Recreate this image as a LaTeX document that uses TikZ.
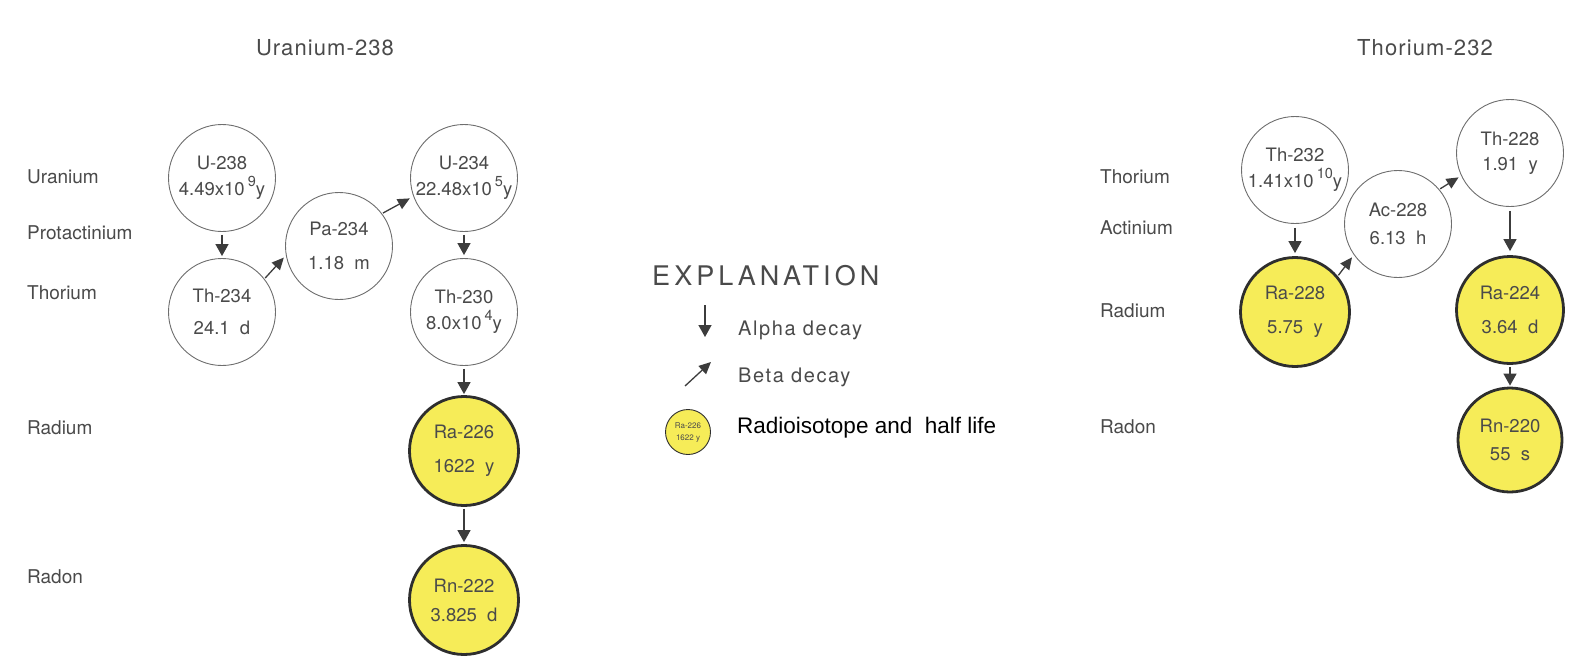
\documentclass[tikz,border=0pt]{standalone}
\usepackage{fontspec}
\setmainfont{TeX Gyre Heros}
\newfontfamily\arialfont{Liberation Sans}
\newfontfamily\trackfont[LetterSpace=15]{TeX Gyre Heros}
\newfontfamily\widefont[LetterSpace=8]{TeX Gyre Heros}
\newfontfamily\titlefont[LetterSpace=5]{TeX Gyre Heros}
\usetikzlibrary{arrows.meta}
\definecolor{txtgray}{HTML}{4A4A4A}
\definecolor{ringgray}{HTML}{6E6E6E}
\definecolor{radyellow}{HTML}{F6EC58}
\definecolor{ringdark}{HTML}{2E2E2E}
\definecolor{arrgray}{HTML}{3C3C3C}
\newcommand{\pw}[1]{\raisebox{0.95ex}{\fontsize{14.5}{14.5}\selectfont #1}}

\begin{document}
\begin{tikzpicture}[x=1pt,y=-1pt,
    iso/.style={circle,draw=ringgray,line width=0.9pt,fill=white,minimum size=107pt,inner sep=0pt,align=center,text=txtgray,font=\fontsize{18.5}{22}\selectfont},
    radio/.style={iso,fill=radyellow,draw=ringdark,line width=2.8pt,minimum size=109pt},
    rowlab/.style={anchor=west,inner sep=0pt,text=txtgray,font=\fontsize{19}{23}\selectfont},
    heading/.style={inner sep=0pt,text=txtgray,font=\fontsize{22}{26}\selectfont\titlefont},
    alphadecay/.style={draw=arrgray,line width=1.4pt,-{Triangle[length=12pt,width=13pt]}},
    betadecay/.style={draw=arrgray,line width=1.3pt,-{Triangle[length=12pt,width=11pt]}}]
  \useasboundingbox[fill=white] (0,0) rectangle (1571,664);

  \node[heading] (titleU) at (325,48) {Uranium-238};
  \node[heading] (titleTh) at (1425,48) {Thorium-232};

  \foreach \lab/\y in {Uranium/177,Protactinium/233,Thorium/293,Radium/428,Radon/577}
    \node[rowlab] (rowU-\lab) at (27,\y) {\lab};
  \foreach \lab/\y in {Thorium/177,Actinium/228,Radium/311,Radon/427}
    \node[rowlab] (rowTh-\lab) at (1100,\y) {\lab};

  \node[iso] (u238) at (222,178) {U-238\\[4pt]4.49x10\,\pw{9}y};
  \node[iso] (th234) at (222,312) {Th-234\\[10pt]24.1\ \ d};
  \node[iso] (pa234) at (339,246) {Pa-234\\[12pt]1.18\ \ m};
  \node[iso] (u234) at (464,178) {U-234\\[4pt]22.48x10\,\pw{5}y};
  \node[iso] (th230) at (464,312) {Th-230\\[4pt]8.0x10\,\pw{4}y};
  \node[radio] (ra226) at (464,451) {Ra-226\\[12pt]1622\ \ y};
  \node[radio] (rn222) at (464,600) {Rn-222\\[7pt]3.825\ \ d};

  \draw[alphadecay,shorten <=3pt,shorten >=2pt] (u238) -- (th234);
  \draw[betadecay,shorten <=1pt,shorten >=3pt] (th234.38) -- (pa234.190);
  \draw[betadecay,shorten <=1pt,shorten >=4pt] (pa234.37) -- (u234.200);
  \draw[alphadecay,shorten <=3pt,shorten >=3pt] (u234) -- (th230);
  \draw[alphadecay,shorten <=3pt,shorten >=1pt] (th230) -- (ra226);
  \draw[alphadecay,shorten <=2pt,shorten >=2pt] (ra226) -- (rn222);

  \node[heading,anchor=west,font=\fontsize{27}{30}\selectfont\trackfont] (expl) at (652,276) {EXPLANATION};
  \coordinate (alphaA) at (705,305);
  \coordinate (alphaB) at (705,337);
  \coordinate (betaA) at (685,386);
  \coordinate (betaB) at (711,362);
  \draw[alphadecay] (alphaA) -- (alphaB);
  \draw[betadecay] (betaA) -- (betaB);
  \node[rowlab,font=\fontsize{20}{24}\selectfont\widefont] (alphatxt) at (738,330) {Alpha decay};
  \node[rowlab,font=\fontsize{20}{24}\selectfont\widefont] (betatxt) at (738,377) {Beta decay};
  \node[iso,fill=radyellow,draw=ringdark,line width=0.9pt,minimum size=45pt,font=\fontsize{8}{9}\selectfont] (keyiso) at (688,432) {Ra-226\\[3pt]1622 y};
  \node[rowlab,text=black,font=\fontsize{22.5}{26}\selectfont\arialfont] (keytxt) at (737,428) {Radioisotope and \ half life};

  \node[iso] (th232) at (1295,170) {Th-232\\[4pt]1.41x10\,\pw{10}y};
  \node[radio] (ra228) at (1295,312) {Ra-228\\[12pt]5.75\ \ y};
  \node[iso] (ac228) at (1398,224) {Ac-228\\[6pt]6.13\ \ h};
  \node[iso] (th228) at (1510,153) {Th-228\\[3pt]1.91\ \ y};
  \node[radio,minimum size=107pt] (ra224) at (1510,310) {Ra-224\\[12pt]3.64\ \ d};
  \node[radio,minimum size=104pt] (rn220) at (1510,440) {Rn-220\\[6pt]55\ \ s};

  \draw[alphadecay,shorten <=4pt,shorten >=3pt] (th232) -- (ra228);
  \draw[betadecay,shorten <=1pt,shorten >=3pt] (ra228.40) -- (ac228.215);
  \draw[betadecay,shorten <=1pt,shorten >=3pt] (ac228.40) -- (th228.205);
  \draw[alphadecay,shorten <=4pt,shorten >=4pt] (th228) -- (ra224);
  \draw[alphadecay,shorten <=2pt,shorten >=1pt] (ra224) -- (rn220);
\end{tikzpicture}
\end{document}
